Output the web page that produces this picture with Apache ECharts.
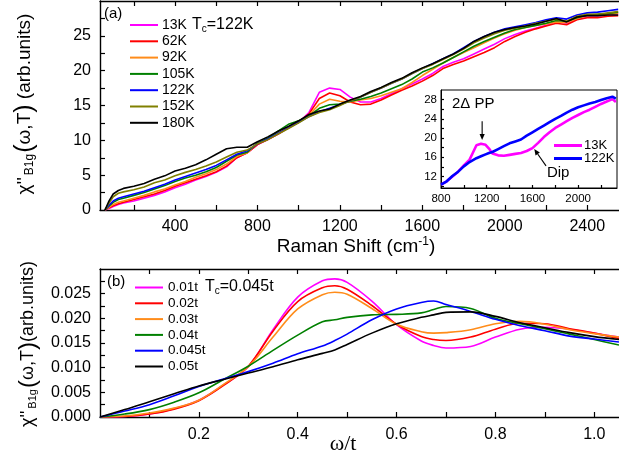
<!DOCTYPE html>
<html><head><meta charset="utf-8">
<script src="https://cdn.jsdelivr.net/npm/echarts@6/dist/echarts.min.js"></script>
<style>html,body{margin:0;padding:0;background:#fff}#c{width:619px;height:459px}</style>
</head><body><div id="c"></div>
<script>
// ---------- Panel (a): Raman spectra ----------
const ramanShift = [60,80,100,125,150,200,250,300,350,400,450,500,550,600,650,700,750,800,850,900,950,1000,1050,1100,1150,1200,1250,1300,1350,1400,1450,1500,1550,1600,1650,1700,1750,1800,1850,1900,1950,2000,2050,2100,2150,2200,2250,2300,2350,2400,2450,2500,2550];
const tempNames = ['13K','62K','92K','105K','122K','152K','180K'];
const chi13K  = [0,0.2,0.5,0.8,1.0,1.3,1.7,2.1,2.6,3.2,3.7,4.3,4.8,5.4,6.2,7.5,8.2,9.4,10.1,10.9,11.8,12.6,14.0,16.9,17.5,17.3,16.2,15.5,15.5,16.0,16.7,17.4,18.1,18.8,19.6,20.6,21.2,21.7,22.4,23.1,23.8,24.6,25.2,25.7,26.1,26.5,27.0,26.8,27.4,27.7,27.8,28.0,28.2];
const chi62K  = [0,0.3,0.6,0.9,1.1,1.5,1.9,2.3,2.8,3.4,3.9,4.4,4.9,5.5,6.3,7.5,8.2,9.4,10.1,10.9,11.8,12.6,13.8,16.0,16.8,16.4,15.5,15.1,15.2,15.8,16.5,17.2,17.8,18.5,19.3,20.3,20.9,21.4,22.0,22.6,23.3,24.2,24.9,25.5,26.0,26.4,26.8,26.6,27.3,27.6,27.6,27.8,27.9];
const chi92K  = [0,0.4,0.8,1.1,1.3,1.7,2.1,2.6,3.0,3.6,4.1,4.7,5.2,5.8,6.6,7.7,8.2,9.6,10.2,11.0,11.9,12.7,13.6,15.2,15.9,15.6,15.5,15.8,16.0,16.4,16.9,17.4,18.3,19.3,20.2,21.1,21.9,22.6,23.3,24.0,24.7,25.3,25.8,26.2,26.5,26.7,27.0,26.9,27.5,27.9,27.9,28.1,28.3];
const chi105K = [0,0.6,1.1,1.5,1.7,2.1,2.5,3.0,3.5,4.1,4.6,5.0,5.5,6.1,7.0,7.9,8.3,9.6,10.3,11.3,12.3,12.8,13.5,14.6,15.1,15.2,15.6,15.9,16.3,16.8,17.4,18.0,18.8,19.8,20.4,21.1,21.9,22.7,23.5,24.2,24.8,25.4,25.9,26.2,26.5,26.8,27.2,27.1,27.6,28.0,28.1,28.2,28.4];
const chi122K = [0,0.7,1.3,1.7,1.9,2.3,2.7,3.2,3.7,4.3,4.8,5.3,5.8,6.4,7.2,8.0,8.5,9.5,10.2,11.0,11.8,12.6,13.4,14.1,14.6,15.1,15.7,16.2,16.9,17.5,18.2,18.8,19.6,20.3,21.0,21.7,22.4,23.3,24.2,24.9,25.5,26.0,26.3,26.6,26.9,27.3,27.6,27.4,28.0,28.3,28.4,28.6,28.8];
const chi152K = [0,1.0,1.9,2.4,2.6,2.9,3.3,3.9,4.3,4.9,5.4,5.8,6.3,6.9,7.6,8.3,8.6,9.5,10.1,10.9,11.7,12.5,13.4,14.0,14.4,15.0,15.7,16.2,16.9,17.5,18.2,18.8,19.6,20.3,20.9,21.6,22.3,23.1,24.0,24.7,25.3,25.8,26.1,26.4,26.8,27.1,27.4,27.1,27.8,28.1,28.1,28.3,28.5];
const chi180K = [0,1.3,2.3,2.8,3.1,3.4,3.8,4.4,4.9,5.6,6.0,6.5,7.2,8.0,8.8,9.0,9.0,9.8,10.5,11.3,12.0,12.8,13.7,14.2,14.5,15.2,15.8,16.3,17.0,17.6,18.3,18.9,19.7,20.4,21.0,21.7,22.4,23.2,24.2,24.9,25.5,25.9,26.2,26.4,26.7,27.1,27.5,27.0,27.7,27.9,27.9,28.0,28.0];
const ramanLabelTicks = [400,800,1200,1600,2000,2400];
const ramanMinorTicks = [200,400,600,800,1000,1200,1400,1600,1800,2000,2200,2400];
const chiLabelTicks = [0,5,10,15,20,25];
const chiMinorTicks = [2.5,5,7.5,10,12.5,15,17.5,20,22.5,25,27.5];

// ---------- Inset ----------
const insetShift = [800,850,900,950,1000,1050,1080,1110,1150,1190,1220,1250,1300,1350,1400,1450,1500,1550,1600,1650,1700,1750,1800,1850,1900,1950,2000,2050,2100,2150,2200,2250,2300,2330];
const inset13K  = [10.3,11.0,12.0,13.0,14.3,15.5,17.0,18.5,18.8,18.6,17.8,16.8,16.4,16.3,16.5,16.7,16.9,17.3,17.9,19.0,20.2,21.2,22.1,22.8,23.5,24.2,24.8,25.4,25.9,26.5,27.1,27.6,28.1,27.5];
const inset122K = [10.3,11.0,12.1,13.0,14.1,15.0,15.4,15.8,16.2,16.6,16.9,17.1,17.7,18.3,18.9,19.3,19.7,20.5,21.2,21.9,22.6,23.3,24.0,24.6,25.3,25.9,26.4,26.8,27.2,27.5,27.9,28.3,28.6,28.2];
const insetXLabels = [800,1200,1600,2000];
const insetXTicks = [1000,1200,1400,1600,1800,2000,2200];
const insetYLabels = [12,16,20,24,28];
const insetYTicks = [10,12,14,16,18,20,22,24,26,28];

// ---------- Panel (b): theory ----------
const omega = [0,0.05,0.1,0.15,0.2,0.25,0.3,0.35,0.4,0.45,0.475,0.5,0.55,0.6,0.65,0.675,0.7,0.75,0.8,0.85,0.9,0.95,1.0,1.05];
const tNames = ['0.01t','0.02t','0.03t','0.04t','0.045t','0.05t'];
const th001  = [0,0.0001,0.0006,0.0017,0.0034,0.0065,0.0102,0.0177,0.0243,0.0276,0.0280,0.0273,0.0235,0.0187,0.0154,0.0145,0.0140,0.0143,0.0162,0.0178,0.0182,0.0178,0.0170,0.0162];
const th002  = [0,0.0001,0.0006,0.0016,0.0033,0.0064,0.0103,0.0174,0.0234,0.0262,0.0266,0.0259,0.0226,0.0188,0.0163,0.0157,0.0155,0.0162,0.0178,0.0190,0.0189,0.0179,0.0170,0.0159];
const th003  = [0,0.0002,0.0008,0.0018,0.0034,0.0066,0.0102,0.0162,0.0219,0.0248,0.0253,0.0249,0.0220,0.0188,0.0173,0.0170,0.0171,0.0177,0.0189,0.0194,0.0188,0.0177,0.0169,0.0162];
const th004  = [0,0.0006,0.0015,0.0030,0.0049,0.0076,0.0103,0.0135,0.0166,0.0193,0.0197,0.0202,0.0207,0.0208,0.0211,0.0218,0.0224,0.0220,0.0200,0.0189,0.0179,0.0168,0.0157,0.0146];
const th0045 = [0,0.0012,0.0025,0.0043,0.0062,0.0077,0.0092,0.0109,0.0128,0.0144,0.0155,0.0168,0.0197,0.0219,0.0232,0.0235,0.0228,0.0214,0.0198,0.0185,0.0175,0.0164,0.0158,0.0152];
const th005  = [0,0.0015,0.0031,0.0047,0.0063,0.0076,0.0089,0.0102,0.0116,0.0129,0.0136,0.0147,0.0170,0.0189,0.0202,0.0207,0.0212,0.0213,0.0204,0.0191,0.0181,0.0171,0.0163,0.0157];
const omegaLabelTicks = [0.2,0.4,0.6,0.8,1.0];
const omegaMinorTicks = [0.1,0.2,0.3,0.4,0.5,0.6,0.7,0.8,0.9,1.0];
const thLabelTicks = [0,0.005,0.010,0.015,0.020,0.025];
const thMinorTicks = [0.0025,0.005,0.0075,0.01,0.0125,0.015,0.0175,0.02,0.0225,0.025,0.0275];

const colors = ['#ff00ff','#ff0000','#ff8c1a','#008000','#0000ff','#808000','#000000'];
const colorsB = ['#ff00ff','#ff0000','#ff8c1a','#008000','#0000ff','#000000'];
const FONT = '"Liberation Sans", Arial, sans-serif';

const zip = (xs, ys) => xs.map((x, i) => [x, ys[i]]);
const plain = v => String(v);

function axis(o) {
  return {
    type: 'value', gridIndex: o.grid, position: o.pos, min: o.min, max: o.max,
    axisLine: { show: o.line !== false, onZero: false, lineStyle: { color: '#000', width: o.lw || 1.4 } },
    splitLine: { show: false },
    axisTick: { show: true, inside: true, length: o.tl || 5, customValues: o.ticks, lineStyle: { color: '#000', width: 1.2 } },
    axisLabel: o.labels ? { show: true, customValues: o.labels, color: '#000', fontSize: o.fs || 16, fontFamily: FONT, margin: o.margin || 9, formatter: o.fmt || plain } : { show: false }
  };
}

const chart = echarts.init(document.getElementById('c'), null, { renderer: 'canvas' });

const tempData = [chi13K, chi62K, chi92K, chi105K, chi122K, chi152K, chi180K];
const thData = [th001, th002, th003, th004, th0045, th005];

const series = [];
tempData.forEach((d, i) => series.push({
  type: 'line', name: tempNames[i], xAxisIndex: 0, yAxisIndex: 0, data: zip(ramanShift, d),
  showSymbol: false, symbol: 'none', lineStyle: { color: colors[i], width: 1.6 }, itemStyle: { color: colors[i] }, z: 2 + i
}));
thData.forEach((d, i) => series.push({
  type: 'line', name: tNames[i], xAxisIndex: 2, yAxisIndex: 1, data: zip(omega, d), smooth: 0.35,
  showSymbol: false, symbol: 'none', lineStyle: { color: colorsB[i], width: 1.6 }, itemStyle: { color: colorsB[i] }, z: 2 + i
}));
series.push({ type: 'line', name: '13K', xAxisIndex: 3, yAxisIndex: 2, data: zip(insetShift, inset13K), showSymbol: false, symbol: 'none', lineStyle: { color: colors[0], width: 2.6 }, itemStyle: { color: colors[0] }, z: 20 });
series.push({ type: 'line', name: '122K', xAxisIndex: 3, yAxisIndex: 2, data: zip(insetShift, inset122K), showSymbol: false, symbol: 'none', lineStyle: { color: colors[4], width: 2.6 }, itemStyle: { color: colors[4] }, z: 21 });

const option = {
  animation: false,
  textStyle: { fontFamily: FONT },
  grid: [
    { left: 100, top: 1, width: 522, height: 209 },
    { left: 100, top: 269, width: 522, height: 148 },
    { left: 441, top: 90, width: 176, height: 98, show: true, borderColor: '#000', borderWidth: 1, backgroundColor: '#fff', z: 10 }
  ],
  xAxis: [
    axis({ grid: 0, pos: 'bottom', min: 36, max: 2554, ticks: ramanMinorTicks, labels: ramanLabelTicks }),
    axis({ grid: 0, pos: 'top', min: 36, max: 2554, ticks: ramanMinorTicks }),
    axis({ grid: 1, pos: 'bottom', min: 0, max: 1.05, ticks: omegaMinorTicks, labels: omegaLabelTicks, margin: 10, fmt: v => v.toFixed(1) }),
    Object.assign(axis({ grid: 2, pos: 'bottom', min: 800, max: 2340, ticks: insetXTicks, labels: insetXLabels, fs: 11.5, margin: 5, tl: 3, lw: 1 }), { z: 11 }),
    axis({ grid: 1, pos: 'top', min: 0, max: 1.05, ticks: omegaMinorTicks })
  ],
  yAxis: [
    axis({ grid: 0, pos: 'left', min: 0, max: 30, ticks: chiMinorTicks, labels: chiLabelTicks }),
    axis({ grid: 1, pos: 'left', min: 0, max: 0.03, ticks: thMinorTicks, labels: thLabelTicks, fmt: v => v.toFixed(3) }),
    Object.assign(axis({ grid: 2, pos: 'left', min: 9.6, max: 30, ticks: insetYTicks, labels: insetYLabels, fs: 11.5, margin: 4, tl: 3, lw: 1 }), { z: 11 })
  ],
  legend: [
    { orient: 'vertical', left: 130, top: 17, padding: 0, itemGap: 0.3, itemWidth: 28, itemHeight: 2, icon: 'rect',
      data: tempNames, textStyle: { fontSize: 14, lineHeight: 16, color: '#000', fontFamily: FONT, padding: [0, 0, 0, -1] }, selectedMode: false },
    { orient: 'vertical', left: 135, top: 280, padding: 0, itemGap: 0.8, itemWidth: 28, itemHeight: 2, icon: 'rect',
      data: tNames, textStyle: { fontSize: 13.5, lineHeight: 15, color: '#000', fontFamily: FONT }, selectedMode: false },
    { orient: 'vertical', left: 554, top: 139, padding: 0, itemGap: 0, itemWidth: 28, itemHeight: 3, icon: 'rect', z: 30,
      data: ['13K', '122K'], textStyle: { fontSize: 13, lineHeight: 12, color: '#000', fontFamily: FONT, padding: [0, 0, 0, -3] }, selectedMode: false }
  ],
  series: series
};
chart.setOption(option);

// ---------- annotations ----------
function arrow(p0, p1) {
  const dx = p1[0] - p0[0], dy = p1[1] - p0[1];
  const L = Math.sqrt(dx * dx + dy * dy), ux = dx / L, uy = dy / L;
  const hl = 6, hw = 2.6;
  const bx = p1[0] - ux * hl, by = p1[1] - uy * hl;
  return [
    { type: 'line', z: 40, shape: { x1: p0[0], y1: p0[1], x2: bx, y2: by }, style: { stroke: '#000', lineWidth: 1.1 } },
    { type: 'polygon', z: 40, shape: { points: [[p1[0], p1[1]], [bx - uy * hw, by + ux * hw], [bx + uy * hw, by - ux * hw]] }, style: { fill: '#000' } }
  ];
}
const ip = v => chart.convertToPixel({ xAxisIndex: 3, yAxisIndex: 2 }, v);
const ppTail = ip([1160, 23.5]), ppHead = ip([1160, 19.6]);
const dipTail = ip([1719, 14.2]), dipHead = ip([1616, 17.7]);
const ppText = ip([896, 27.1]), dipText = ip([1727, 12.7]);

const sub = { fontSize: 10, fontFamily: FONT, padding: [9, 0, 0, 0] };
const graphics = [
  { type: 'text', x: 104, y: 14, z: 30, style: { text: '(a)', font: '15px ' + FONT, fill: '#000', verticalAlign: 'middle' } },
  { type: 'text', x: 192, y: 25, z: 30, style: { text: '{n|T}{s|c}{n|=122K}', verticalAlign: 'middle', rich: { n: { fontSize: 16, fontFamily: FONT }, s: sub } } },
  { type: 'text', x: 107, y: 282, z: 30, style: { text: '(b)', font: '15px ' + FONT, fill: '#000', verticalAlign: 'middle' } },
  { type: 'text', x: 205, y: 287, z: 30, style: { text: '{n|T}{s|c}{n|=0.045t}', verticalAlign: 'middle', rich: { n: { fontSize: 16, fontFamily: FONT }, s: sub } } },
  { type: 'text', x: 356, y: 247, z: 30, style: { text: '{n|Raman Shift (cm}{sup|-1}{n|)}', align: 'center', verticalAlign: 'middle',
      rich: { n: { fontSize: 19, fontFamily: FONT }, sup: { fontSize: 12, fontFamily: FONT, padding: [0, 0, 11, 0] } } } },
  { type: 'text', x: 343, y: 444, z: 30, style: { text: 'ω/t', align: 'center', verticalAlign: 'middle', font: '22px "Liberation Serif", serif', fill: '#000' } },
  { type: 'text', x: 25, y: 104, rotation: Math.PI / 2, z: 30, style: {
      text: '{n|χ\'\'}{s|B1g}{p|(}{n|ω,T}{p|)}{n| (arb.units)}', align: 'center', verticalAlign: 'middle',
      rich: { n: { fontSize: 19, fontFamily: FONT }, s: { fontSize: 12, fontFamily: FONT, padding: [10, 1, 0, 2] }, p: { fontSize: 25, fontFamily: FONT } } } },
  { type: 'text', x: 28, y: 344, rotation: Math.PI / 2, z: 30, style: {
      text: '{n|χ\'\'}{s|B1g}{p|(}{n|ω,T}{p|)}{n|(arb.units)}', align: 'center', verticalAlign: 'middle',
      rich: { n: { fontSize: 18, fontFamily: FONT }, s: { fontSize: 11, fontFamily: FONT, padding: [10, 1, 0, 2] }, p: { fontSize: 24, fontFamily: FONT } } } },
  { type: 'text', x: ppText[0], y: ppText[1], z: 40, style: { text: '2Δ PP', font: '15px ' + FONT, fill: '#000', verticalAlign: 'middle' } },
  { type: 'text', x: dipText[0], y: dipText[1], z: 40, style: { text: 'Dip', font: '15px ' + FONT, fill: '#000', verticalAlign: 'middle' } }
].concat(arrow(ppTail, ppHead), arrow(dipTail, dipHead));

chart.setOption({ graphic: graphics });
</script></body></html>
